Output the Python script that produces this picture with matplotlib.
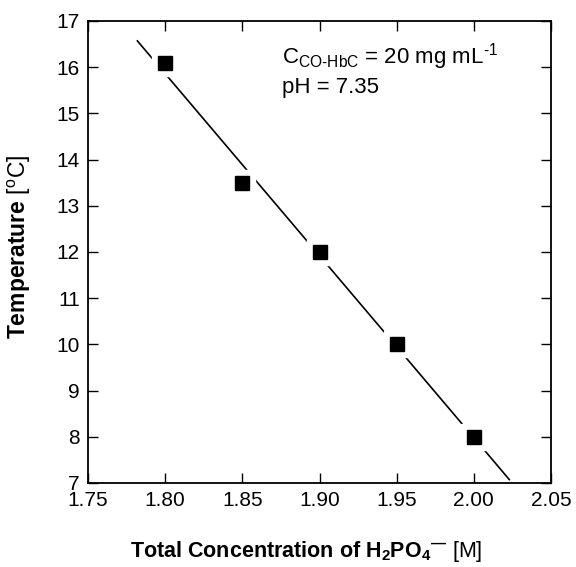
import numpy as np
import matplotlib
matplotlib.use("Agg")
import matplotlib.pyplot as plt

conc = [1.80, 1.85, 1.90, 1.95, 2.00]
temp = [16.1, 13.5, 12.0, 10.0, 8.0]
fit_range = [1.782, 2.023]
xticks = [1.75, 1.80, 1.85, 1.90, 1.95, 2.00, 2.05]
yticks = [7, 8, 9, 10, 11, 12, 13, 14, 15, 16, 17]

plt.rcParams['font.family'] = ['Liberation Sans', 'DejaVu Sans']
plt.rcParams['mathtext.fontset'] = 'custom'
plt.rcParams['mathtext.rm'] = 'Liberation Sans'
plt.rcParams['mathtext.it'] = 'Liberation Sans:italic'
plt.rcParams['mathtext.bf'] = 'Liberation Sans:bold'

W, H = 576, 567
fig = plt.figure(figsize=(W/100, H/100), dpi=100)
ax = fig.add_axes([88/W, 1 - 483/H, (551-88)/W, (483-21)/H])

coef = np.polyfit(conc, temp, 1)
xf = np.array(fit_range)
ax.plot(xf, np.polyval(coef, xf), color='black', lw=1.2, zorder=1)
ax.plot(conc, temp, 's', color='white', ms=19, mec='white', zorder=2)
ax.plot(conc, temp, 's', color='black', ms=9.8, mec='black', zorder=3)

ax.set_xlim(1.75, 2.05)
ax.set_ylim(7, 17)
ax.set_xticks(xticks)
ax.set_xticklabels([f"{v:.2f}" for v in xticks])
ax.set_yticks(yticks)
ax.tick_params(direction='in', top=True, right=True, labelsize=15, length=7, width=1, pad=6)
for s in ax.spines.values():
    s.set_linewidth(1.3)

ax.set_xlabel(r"$\mathbf{Total\ Concentration\ of\ H_2PO_4}{}^{\mathbf{—}}$ [M]", fontsize=15.5, labelpad=21)
ax.xaxis.label.set_x(0.471)
ax.set_ylabel(r"$\mathbf{Temperature}$ [$^{\rm o}$C]", fontsize=16.5)
ax.yaxis.set_label_coords(-0.119, 0.511)

ax.text(0.419, 0.909, r"C$_{\rm CO\text{-}HbC}$ = 20 mg mL$^{\text{-}1}$", transform=ax.transAxes, fontsize=16, va='baseline')
ax.text(0.419, 0.844, "pH = 7.35", transform=ax.transAxes, fontsize=16, va='baseline')

fig.savefig("out.png", dpi=100)
